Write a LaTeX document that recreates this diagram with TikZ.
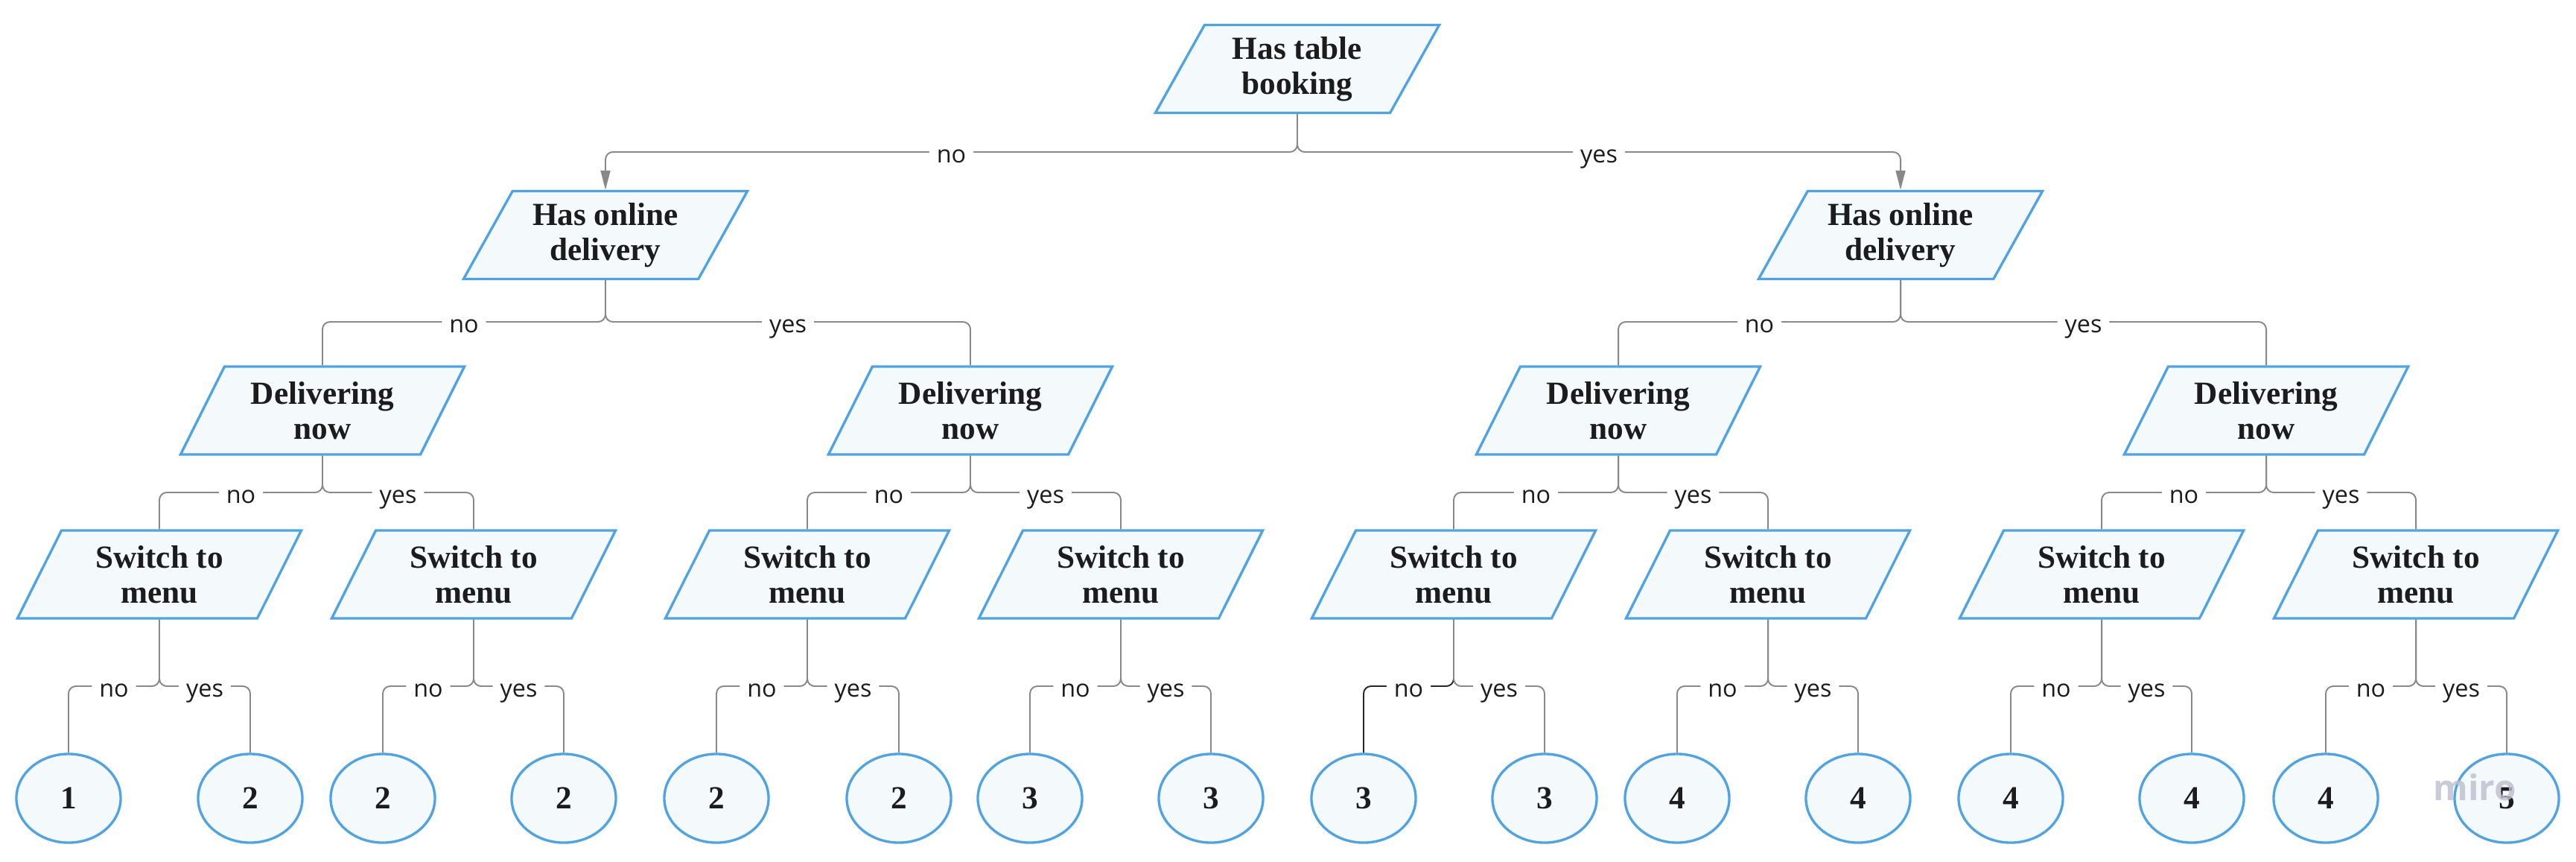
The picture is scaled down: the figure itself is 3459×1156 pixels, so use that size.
\documentclass[tikz,border=0pt]{standalone}
\usepackage{fontspec}
\setmainfont{Liberation Serif}
\newfontfamily\lblfont{Open Sans}
\usetikzlibrary{shapes.geometric,arrows.meta}
\definecolor{nodeblue}{RGB}{78,163,230}
\definecolor{nodefill}{RGB}{244,249,252}
\definecolor{linegray}{RGB}{136,136,136}
\definecolor{txtdark}{RGB}{28,28,28}
\definecolor{wmgray}{RGB}{190,190,206}
\tikzstyle{para}=[trapezium, trapezium left angle=52.7, trapezium right angle=127.3, trapezium stretches body, minimum width=3.81cm, minimum height=1.18cm, inner sep=0pt, draw=nodeblue, fill=nodefill, line width=0.95pt, align=center, text=txtdark, font=\bfseries\fontsize{12.3}{13.4}\selectfont]
\tikzstyle{leaf}=[ellipse, minimum width=1.40cm, minimum height=1.19cm, inner sep=0pt, draw=nodeblue, fill=nodefill, line width=0.95pt, text=txtdark, font=\bfseries\fontsize{12.3}{13.4}\selectfont]
\tikzstyle{conn}=[draw=linegray, line width=0.55pt, rounded corners=0.1cm]
\tikzstyle{lbl}=[fill=white, inner xsep=0.1cm, inner ysep=0pt, text height=1.05em, text depth=0.25em, text=txtdark, font=\lblfont\fontsize{9.2}{10}\selectfont]
\tikzstyle{tip}=[-{Triangle[length=0.26cm,width=0.13cm]}]
\newcommand{\branch}[5][]
{
  \draw[conn,#1] (#2.south) -- (#2.south |- #4) -- node[lbl]{#5} (#3.north |- #4) -- (#3.north);
}

\begin{document}
\begin{tikzpicture}[x=0.01cm, y=-0.01cm]
	\useasboundingbox (0,0) rectangle (3459,1156);

	\coordinate (bar0) at (0,204);
	\coordinate (bar1) at (0,432);
	\coordinate (bar2) at (0,661);
	\coordinate (bar3) at (0,921);

	\node[para](top) at (1742,92.5){Has table\\booking};

	\node[para](online1) at (813,315.5){Has online\\delivery};
	\node[para](online2) at (2552,315.5){Has online\\delivery};

	\node[para](deliv1) at (433,551){Delivering\\now};
	\node[para](deliv2) at (1303,551){Delivering\\now};
	\node[para](deliv3) at (2173,551){Delivering\\now};
	\node[para](deliv4) at (3043,551){Delivering\\now};

	\node[para](menu1) at (214,771){Switch to\\menu};
	\node[para](menu2) at (636,771){Switch to\\menu};
	\node[para](menu3) at (1084,771){Switch to\\menu};
	\node[para](menu4) at (1505,771){Switch to\\menu};
	\node[para](menu5) at (1952,771){Switch to\\menu};
	\node[para](menu6) at (2374,771){Switch to\\menu};
	\node[para](menu7) at (2822,771){Switch to\\menu};
	\node[para](menu8) at (3244,771){Switch to\\menu};

	\node[leaf](res1) at (92,1071.5){1};
	\node[leaf](res2) at (336,1071.5){2};
	\node[leaf](res3) at (514,1071.5){2};
	\node[leaf](res4) at (757,1071.5){2};
	\node[leaf](res5) at (962,1071.5){2};
	\node[leaf](res6) at (1207,1071.5){2};
	\node[leaf](res7) at (1383,1071.5){3};
	\node[leaf](res8) at (1626,1071.5){3};
	\node[leaf](res9) at (1831,1071.5){3};
	\node[leaf](res10) at (2074,1071.5){3};
	\node[leaf](res11) at (2252,1071.5){4};
	\node[leaf](res12) at (2495,1071.5){4};
	\node[leaf](res13) at (2700,1071.5){4};
	\node[leaf](res14) at (2943,1071.5){4};
	\node[leaf](res15) at (3123,1071.5){4};
	\node[leaf](res16) at (3366,1071.5){5};

	\branch[tip]{top}{online1}{bar0}{no}
	\branch[tip]{top}{online2}{bar0}{yes}

	\branch{online1}{deliv1}{bar1}{no}
	\branch{online1}{deliv2}{bar1}{yes}
	\branch{online2}{deliv3}{bar1}{no}
	\branch{online2}{deliv4}{bar1}{yes}

	\branch{deliv1}{menu1}{bar2}{no}
	\branch{deliv1}{menu2}{bar2}{yes}
	\branch{deliv2}{menu3}{bar2}{no}
	\branch{deliv2}{menu4}{bar2}{yes}
	\branch{deliv3}{menu5}{bar2}{no}
	\branch{deliv3}{menu6}{bar2}{yes}
	\branch{deliv4}{menu7}{bar2}{no}
	\branch{deliv4}{menu8}{bar2}{yes}

	\branch{menu1}{res1}{bar3}{no}
	\branch{menu1}{res2}{bar3}{yes}
	\branch{menu2}{res3}{bar3}{no}
	\branch{menu2}{res4}{bar3}{yes}
	\branch{menu3}{res5}{bar3}{no}
	\branch{menu3}{res6}{bar3}{yes}
	\branch{menu4}{res7}{bar3}{no}
	\branch{menu4}{res8}{bar3}{yes}
	% this one is highlighted
	\branch[draw=black!85]{menu5}{res9}{bar3}{no}
	\branch{menu5}{res10}{bar3}{yes}
	\branch{menu6}{res11}{bar3}{no}
	\branch{menu6}{res12}{bar3}{yes}
	\branch{menu7}{res13}{bar3}{no}
	\branch{menu7}{res14}{bar3}{yes}
	\branch{menu8}{res15}{bar3}{no}
	\branch{menu8}{res16}{bar3}{yes}

	\node[text=wmgray, opacity=0.8, anchor=base, font=\lblfont\bfseries\fontsize{13.5}{14}\selectfont](mark) at (3323,1074){miro};
\end{tikzpicture}
\end{document}
